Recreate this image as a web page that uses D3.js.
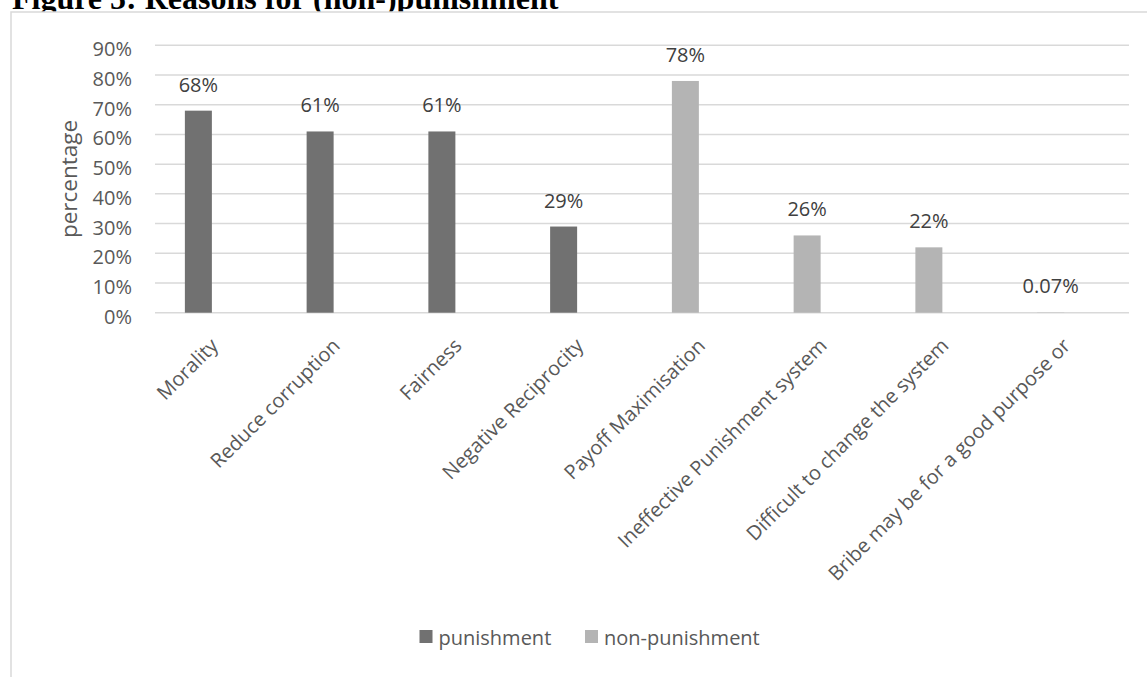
<!DOCTYPE html>
<html>
<head>
<meta charset="utf-8">
<script src="https://cdn.jsdelivr.net/npm/d3@7/dist/d3.min.js"></script>
<style>
  html, body { margin: 0; padding: 0; background: #fff; }
  svg { display: block; }
</style>
</head>
<body>
<svg id="chart" width="1147" height="677"></svg>
<script>
// Reasons for (non-)punishment, share of respondents
const categories = [
  "Morality",
  "Reduce corruption",
  "Fairness",
  "Negative Reciprocity",
  "Payoff Maximisation",
  "Ineffective Punishment system",
  "Difficult to change the system",
  "Bribe may be for a good purpose or"
];
const seriesNames = ["punishment", "non-punishment"];
// which series each reason belongs to (index into seriesNames)
const seriesOf = [0, 0, 0, 0, 1, 1, 1, 1];
// values in percent
const values = [68, 61, 61, 29, 78, 26, 22, 0.07];
const valueLabels = ["68%", "61%", "61%", "29%", "78%", "26%", "22%", "0.07%"];
const yTicks = [0, 10, 20, 30, 40, 50, 60, 70, 80, 90];

const colors = ["#717171", "#b4b4b4"];
const font = "'Open Sans', 'Noto Sans', sans-serif";

const svg = d3.select("#chart");

// figure caption, partly hidden behind the chart frame
svg.append("text")
  .attr("x", 12)
  .attr("y", 9)
  .attr("font-family", "'Liberation Serif', 'Times New Roman', serif")
  .attr("font-weight", "bold")
  .attr("font-size", 32)
  .attr("fill", "#000")
  .text("Figure 5: Reasons for (non-)punishment");

// chart frame
svg.append("rect")
  .attr("x", 11)
  .attr("y", 12)
  .attr("width", 1200)
  .attr("height", 700)
  .attr("fill", "#fff")
  .attr("stroke", "#d9d9d9")
  .attr("stroke-width", 1.5);

const plot = { left: 155, right: 1129, top: 45.3, bottom: 312.7 };

const y = d3.scaleLinear()
  .domain([0, 90])
  .range([plot.bottom, plot.top]);

const x = d3.scaleBand()
  .domain(categories)
  .range([plot.left, plot.right]);

const barWidth = 27;
const barShift = -17.5; // bars sit slightly left of each category slot
const barCenter = c => x(c) + x.bandwidth() / 2 + barShift;

// horizontal gridlines
svg.append("g")
  .selectAll("line")
  .data(yTicks)
  .join("line")
  .attr("x1", plot.left)
  .attr("x2", plot.right)
  .attr("y1", d => y(d))
  .attr("y2", d => y(d))
  .attr("stroke", "#d9d9d9")
  .attr("stroke-width", 1.5);

// y tick labels
svg.append("g")
  .selectAll("text")
  .data(yTicks)
  .join("text")
  .attr("x", 132)
  .attr("y", d => y(d) + 11)
  .attr("text-anchor", "end")
  .attr("font-family", font)
  .attr("font-size", 20)
  .attr("fill", "#595959")
  .text(d => d + "%");

// y axis title
svg.append("text")
  .attr("transform", `translate(77,${(plot.top + plot.bottom) / 2}) rotate(-90)`)
  .attr("text-anchor", "middle")
  .attr("font-family", font)
  .attr("font-size", 22.5)
  .attr("fill", "#595959")
  .text("percentage");

const rows = categories.map((c, i) => ({
  c, v: values[i], s: seriesOf[i], label: valueLabels[i]
}));

// bars
svg.append("g")
  .selectAll("rect")
  .data(rows)
  .join("rect")
  .attr("x", d => barCenter(d.c) - barWidth / 2)
  .attr("y", d => y(d.v))
  .attr("width", barWidth)
  .attr("height", d => y(0) - y(d.v))
  .attr("fill", d => colors[d.s]);

// value labels
svg.append("g")
  .selectAll("text")
  .data(rows)
  .join("text")
  .attr("x", d => barCenter(d.c))
  .attr("y", d => y(d.v) - 19)
  .attr("text-anchor", "middle")
  .attr("font-family", font)
  .attr("font-size", 20)
  .attr("fill", "#404040")
  .text(d => d.label);

// category labels, rotated
svg.append("g")
  .selectAll("text")
  .data(categories)
  .join("text")
  .attr("transform", c => `translate(${barCenter(c) + 21},347) rotate(-45)`)
  .attr("text-anchor", "end")
  .attr("font-family", font)
  .attr("font-size", 20)
  .attr("fill", "#595959")
  .text(c => c);

// legend
const legendX = [419.5, 585];
const legend = svg.append("g")
  .selectAll("g")
  .data(seriesNames)
  .join("g")
  .attr("transform", (d, i) => `translate(${legendX[i]},630)`);
legend.append("rect")
  .attr("width", 13)
  .attr("height", 13)
  .attr("fill", (d, i) => colors[i]);
legend.append("text")
  .attr("x", 19)
  .attr("y", 15)
  .attr("font-family", font)
  .attr("font-size", 20)
  .attr("fill", "#595959")
  .text(d => d);
</script>
</body>
</html>
